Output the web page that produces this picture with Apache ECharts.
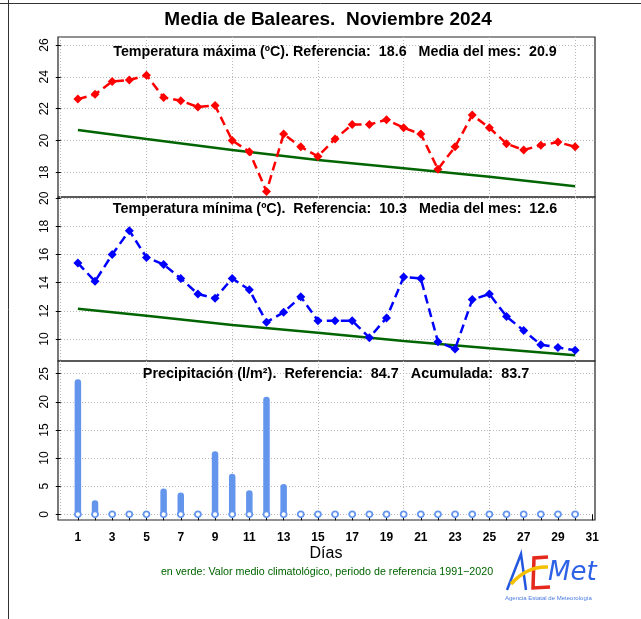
<!DOCTYPE html>
<html>
<head>
<meta charset="utf-8">
<script src="https://cdn.jsdelivr.net/npm/echarts@6/dist/echarts.min.js"></script>
<style>
html,body{margin:0;padding:0;background:#fff;}
#chart{width:641px;height:619px;}
</style>
</head>
<body>
<div id="chart"></div>
<script>
// ---- data ----
const days = [1,2,3,4,5,6,7,8,9,10,11,12,13,14,15,16,17,18,19,20,21,22,23,24,25,26,27,28,29,30];
const tmax = [22.6,22.9,23.7,23.8,24.1,22.7,22.5,22.1,22.2,20.0,19.3,16.8,20.4,19.6,19.0,20.1,21.0,21.0,21.3,20.8,20.4,18.2,19.6,21.6,20.8,19.8,19.4,19.7,19.9,19.6];
const tmin = [15.4,14.1,16.0,17.7,15.8,15.3,14.3,13.2,12.9,14.3,13.5,11.2,11.9,13.0,11.3,11.3,11.3,10.1,11.5,14.4,14.3,9.8,9.3,12.8,13.2,11.6,10.6,9.6,9.4,9.2];
const precip = [24.0,2.5,0.1,0.3,0,4.6,3.9,0.2,11.2,7.2,4.3,20.9,5.4,0,0,0,0,0,0,0,0,0,0.2,0,0,0,0,0,0,0];
const climDays = [1,5,10,15,20,25,30];
const climMax = [20.66,20.09,19.40,18.77,18.25,17.72,17.12];
const climMin = [12.15,11.66,10.99,10.45,9.86,9.34,8.84];

const maxTicks = [18,20,22,24,26];
const minTicks = [10,12,14,16,18,20];
const precipTicks = [0,5,10,15,20,25];
const dayTicks = [1,2,3,4,5,6,7,8,9,10,11,12,13,14,15,16,17,18,19,20,21,22,23,24,25,26,27,28,29,30,31];
const dayLabels = [1,3,5,7,9,11,13,15,17,19,21,23,25,27,29,31];
const dayGrid = [0,5,10,15,20,25,30];

const titleText = 'Media de Baleares.  Noviembre 2024';
const maxText = 'Temperatura máxima (ºC). Referencia:  18.6   Media del mes:  20.9';
const minText = 'Temperatura mínima (ºC).  Referencia:  10.3   Media del mes:  12.6';
const precText = 'Precipitación (l/m²).  Referencia:  84.7   Acumulada:  83.7';
const xName = 'Días';
const footText = 'en verde: Valor medio climatológico, periodo de referencia 1991−2020';

// ---- layout ----
const FONT = '"Liberation Sans", Arial, Helvetica, sans-serif';
const gridDefs = [
  {top:37, height:160, min:16.45, max:26.5, ticks:maxTicks},
  {top:197, height:164, min:8.44, max:20.09, ticks:minTicks},
  {top:361, height:159, min:-1.01, max:27.26, ticks:precipTicks}
];
const XMIN = -0.16, XMAX = 31.16;
const gridLineStyle = {color:'#b8b8b8', type:[1,2], width:1};

const grids = gridDefs.map(g => ({
  left:58, top:g.top, width:537, height:g.height,
  show:true, borderColor:'#222', borderWidth:1.2, backgroundColor:'transparent'
}));

const xAxes = [];
gridDefs.forEach((g, i) => {
  const isBottom = i === 2;
  xAxes.push({
    type:'value', gridIndex:i, min:XMIN, max:XMAX, position:'bottom',
    axisLine:{show:false},
    axisTick:{show:isBottom, customValues:dayTicks, length:6, lineStyle:{color:'#000', width:1}},
    axisLabel:{show:isBottom, customValues:dayLabels, margin:12,
      fontFamily:FONT, fontSize:12, fontWeight:'bold', color:'#000'},
    splitLine:{show:false}
  });
  xAxes.push({
    type:'value', gridIndex:i, min:XMIN, max:XMAX, position:'top',
    axisLine:{show:false},
    axisTick:{show:false, customValues:dayGrid},
    axisLabel:{show:false},
    splitLine:{show:true, lineStyle:gridLineStyle}
  });
});

const yAxes = gridDefs.map((g, i) => ({
  type:'value', gridIndex:i, min:g.min, max:g.max,
  axisLine:{show:false},
  axisTick:{show:true, customValues:g.ticks, length:5, lineStyle:{color:'#000', width:1}},
  axisLabel:{show:true, customValues:g.ticks, rotate:90, margin:7,
    fontFamily:FONT, fontSize:12, color:'#000'},
  splitLine:{show:true, lineStyle:gridLineStyle}
}));

const pair = (xs, ys) => xs.map((d, k) => [d, ys[k]]);

const series = [
  {type:'line', xAxisIndex:0, yAxisIndex:0, data:pair(climDays, climMax),
   symbol:'none', lineStyle:{color:'#006400', width:2.5}, z:3, silent:true},
  {type:'line', xAxisIndex:0, yAxisIndex:0, data:pair(days, tmax),
   symbol:'diamond', symbolSize:9, itemStyle:{color:'#ff0000'},
   lineStyle:{color:'#ff0000', width:2.5, type:[9,5]}, z:4},
  {type:'line', xAxisIndex:2, yAxisIndex:1, data:pair(climDays, climMin),
   symbol:'none', lineStyle:{color:'#006400', width:2.5}, z:3, silent:true},
  {type:'line', xAxisIndex:2, yAxisIndex:1, data:pair(days, tmin),
   symbol:'diamond', symbolSize:9, itemStyle:{color:'#0000ff'},
   lineStyle:{color:'#0000ff', width:2.5, type:[9,5]}, z:4},
  {type:'bar', xAxisIndex:4, yAxisIndex:2, data:pair(days, precip),
   barWidth:6.5, itemStyle:{color:'#6495ED', borderRadius:3.2}, z:3},
  {type:'scatter', xAxisIndex:4, yAxisIndex:2, data:days.map(d => [d, 0]),
   symbol:'circle', symbolSize:6,
   itemStyle:{color:'#ffffff', borderColor:'#6495ED', borderWidth:1.8, opacity:1}, z:5}
];

const txt = (x, y, text, font, fill, align) => ({
  type:'text', x:x, y:y, z:10,
  style:{text:text, font:font, fill:fill || '#000', align:align || 'center', verticalAlign:'middle'}
});

const graphic = [
  // outer frame lines
  {type:'line', shape:{x1:0, y1:3.5, x2:641, y2:3.5}, style:{stroke:'#333', lineWidth:1}},
  {type:'line', shape:{x1:8.5, y1:0, x2:8.5, y2:619}, style:{stroke:'#333', lineWidth:1}},
  txt(328, 20, titleText, 'bold 19px ' + FONT),
  txt(335, 52, maxText, 'bold 14.3px ' + FONT),
  txt(335, 209, minText, 'bold 14.3px ' + FONT),
  txt(336, 374, precText, 'bold 14.4px ' + FONT),
  txt(326, 554, xName, '16px ' + FONT),
  txt(327, 572, footText, '10.7px "Liberation Sans Narrow", ' + FONT, '#006400'),
  // AEMET logo (approximation)
  {type:'polyline', z:10, shape:{points:[[507,590],[521,554],[526,590]]},
   style:{stroke:'#2457e0', lineWidth:2.5, fill:null}},
  {type:'polyline', z:10, shape:{points:[[548,557],[534,558],[533,588],[550,587]]},
   style:{stroke:'#e5281c', lineWidth:3.5, fill:null}},
  {type:'bezierCurve', z:11, shape:{x1:511, y1:584, x2:548, y2:567, cpx1:527, cpy1:566},
   style:{stroke:'#f5c000', lineWidth:3.5, fill:null}},
  {type:'text', z:10, x:548, y:573,
   style:{text:'Met', font:'italic 26px "DejaVu Sans", ' + FONT, fill:'#2f63e6', align:'left', verticalAlign:'middle'}},
  txt(505, 598, 'Agencia Estatal de Meteorología', '6px ' + FONT, '#4a7be0', 'left')
];

const chart = echarts.init(document.getElementById('chart'), null, {renderer:'canvas'});
chart.setOption({
  backgroundColor:'#ffffff',
  animation:false,
  grid:grids,
  xAxis:xAxes,
  yAxis:yAxes,
  series:series,
  graphic:graphic
});
</script>
</body>
</html>
